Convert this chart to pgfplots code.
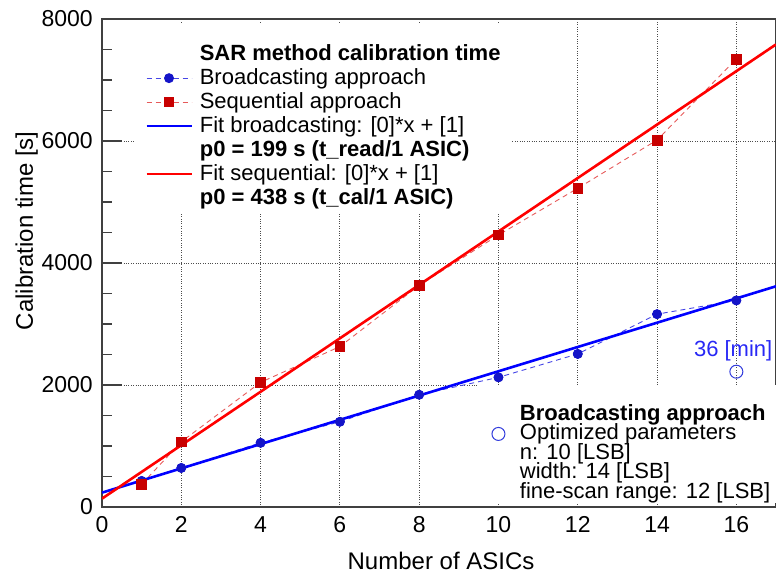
\documentclass[border=0pt]{standalone}
\usepackage{fontspec}
\setmainfont{Liberation Sans}
\usepackage{pgfplots}
\usepackage{pgfplotstable}
\pgfplotsset{compat=1.18}
\definecolor{mkblue}{RGB}{20,20,200}
\definecolor{mkred}{RGB}{200,0,0}
\definecolor{dashblue}{RGB}{70,70,230}
\definecolor{dashred}{RGB}{230,90,90}
\definecolor{circblue}{RGB}{50,60,220}
\definecolor{txtblue}{RGB}{40,40,245}

\pgfplotstableread{
x y
1 427
2 640
4 1052
6 1397
8 1840
10 2125
12 2509
14 3161
16 3386
}\broad
\pgfplotstableread{
x y
1 372
2 1068
4 2043
6 2630
8 3633
10 4459
12 5225
14 6016
16 7344
}\seqt

\begin{document}
\begin{tikzpicture}
\begin{axis}[name=ax, scale only axis, width=674pt, height=488pt,
  xmin=0, xmax=17, ymin=0, ymax=8000,
  xtick={0,2,...,16}, ytick={0,2000,...,8000}, minor y tick num=3,
  tick align=inside, ytick pos=left, xtick pos=bottom,
  major tick length=20pt, minor tick length=10pt,
  x tick style={draw=none},
  y tick style={black!75, line width=1.2pt},
  grid=major, grid style={dotted, black!70, line width=0.8pt},
  axis line style={black!75, line width=1.2pt},
  tick label style={font=\fontsize{23}{27}\selectfont},
  x tick label style={inner sep=0pt, yshift=-9pt},
  y tick label style={inner sep=0pt, xshift=-9pt},
  /pgf/number format/assume math mode=true,
  /pgf/number format/1000 sep={},
  xlabel={Number of ASICs}, ylabel={Calibration time [s]},
  every axis x label/.style={at={(axis description cs:0.503,-0.129)}, anchor=base, font=\fontsize{24}{28}\selectfont},
  every axis y label/.style={at={(axis description cs:-0.1024,0.566)}, anchor=base, rotate=90, font=\fontsize{24}{28}\selectfont},
  legend style={at={(rel axis cs:0.049,0.9898)}, anchor=north west, draw=none, fill=white,
    inner xsep=10pt, inner ysep=2pt, row sep=0pt, column sep=6pt,
    font=\fontsize{22}{26}\selectfont,
    nodes={inner xsep=1pt, inner ysep=1pt, text height=17pt, text depth=5pt}},
  legend cell align=left,
  legend image code/.code={\draw[mark repeat=2, mark phase=2, #1] plot coordinates {(0pt,0pt) (22.5pt,0pt) (45pt,0pt)};},
]
\addlegendimage{empty legend}
\addlegendentry[text height=33pt]{\textbf{SAR method calibration time}}
\addplot[dashblue, dash pattern=on 5pt off 4pt, line width=0.9pt, mark=*, mark size=4.5pt,
  mark options={solid, fill=mkblue, draw=mkblue}] table {\broad};
\addlegendentry{Broadcasting approach}
\addplot[dashred, dash pattern=on 5pt off 4pt, line width=0.9pt, mark=square*, mark size=4.7pt,
  mark options={solid, fill=mkred, draw=mkred}] table {\seqt};
\addlegendentry{Sequential approach}
\addplot[blue, line width=2.6pt] coordinates {(0,235) (17,3618)};
\addlegendentry{Fit broadcasting: [0]*x + [1]}
\addlegendimage{empty legend}
\addlegendentry{\textbf{p0 = 199 s (t\_read/1 ASIC)}}
\addplot[red, line width=2.6pt] coordinates {(0,137) (17,7583)};
\addlegendentry{Fit sequential: [0]*x + [1]}
\addlegendimage{empty legend}
\addlegendentry{\textbf{p0 = 438 s (t\_cal/1 ASIC)}}
\addplot[forget plot, only marks, mark=*, mark size=4.5pt, mark options={fill=mkblue, draw=mkblue}] table {\broad};
\addplot[forget plot, only marks, mark=square*, mark size=4.7pt, mark options={fill=mkred, draw=mkred}] table {\seqt};
\node[text=txtblue, font=\fontsize{22}{26}\selectfont] at (axis cs:15.92,2558) {36 [min]};
\end{axis}
\begin{axis}[scale only axis, width=674pt, height=488pt,
  xmin=0, xmax=17, ymin=0, ymax=8000, hide axis,
  legend style={at={(rel axis cs:0.556,0.25)}, anchor=north west, draw=none, fill=white,
    inner xsep=15pt, inner ysep=1pt, row sep=0pt, column sep=14pt,
    font=\fontsize{22}{26}\selectfont,
    nodes={inner xsep=1pt, inner ysep=0.5pt, text height=15pt, text depth=3.5pt}},
  legend cell align=left,
  legend image code/.code={\draw[#1] plot coordinates {(0pt,0pt)};},
]
\addlegendimage{empty legend}
\addlegendentry[text height=33.5pt]{\textbf{Broadcasting approach}}
\addplot[circblue, mark=o, mark size=6.5pt, line width=1pt] coordinates {(16,2218)};
\addlegendentry{Optimized parameters}
\addlegendimage{empty legend}
\addlegendentry{n: 10 [LSB]}
\addlegendimage{empty legend}
\addlegendentry{width: 14 [LSB]}
\addlegendimage{empty legend}
\addlegendentry{fine-scan range: 12 [LSB]}
\end{axis}
\pgfresetboundingbox
\path[use as bounding box] ([xshift=-102pt,yshift=-67pt]ax.south west) rectangle ([yshift=19pt]ax.north east);
\end{tikzpicture}
\end{document}
